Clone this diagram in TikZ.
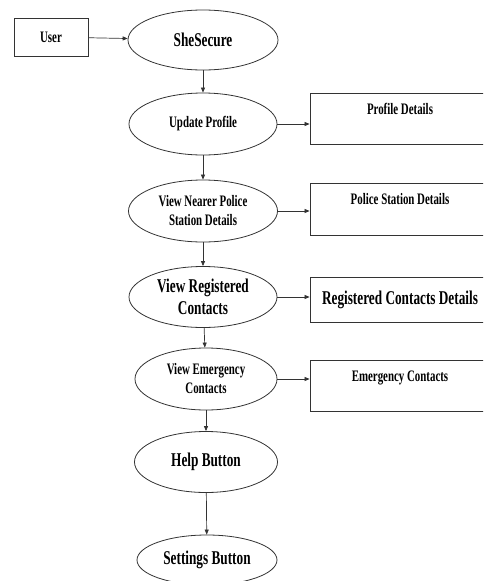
\documentclass[tikz,border=0pt]{standalone}
\usepackage{fontspec}
\setmainfont{Liberation Serif}[FakeStretch=0.68]
\usetikzlibrary{shapes.geometric,arrows.meta}
\begin{document}
\begin{tikzpicture}[x=1pt, y=-1pt, line width=0.8pt, draw=black!80,
  oval/.style={draw, shape=ellipse, inner sep=0pt, align=center, font=\bfseries\fontsize{16}{19}\selectfont},
  big/.style={font=\bfseries\fontsize{19.5}{22}\selectfont},
  box/.style={draw, shape=rectangle, inner sep=0pt, minimum width=180pt, font=\bfseries\fontsize{16}{19}\selectfont},
  toptext/.style={text height=10pt, text depth=19pt},
  flow/.style={-{Triangle[length=5pt, width=4pt]}, line width=0.7pt}]
\useasboundingbox (0,0) rectangle (483,581);
\clip (0,0) rectangle (483,581);
\node (us) [box, minimum width=74pt, minimum height=38pt] at (51,37) {User};
\node (ss) [oval, big, minimum width=150pt, minimum height=60pt] at (203,40) {SheSecure};
\node (up) [oval, minimum width=148pt, minimum height=62pt] at (203,124) {Update Profile};
\node (vp) [oval, minimum width=149pt, minimum height=62pt] at (203,211) {View Nearer Police\\Station Details};
\node (vr) [oval, big, minimum width=148pt, minimum height=61pt] at (203,297) {View Registered\\Contacts};
\node (ve) [oval, minimum width=142pt, minimum height=62pt] at (206,379) {View Emergency\\Contacts};
\node (hb) [oval, big, minimum width=143pt, minimum height=61pt] at (206,462) {Help Button};
\node (sb) [oval, big, minimum width=140pt, minimum height=50pt] at (207,560) {Settings Button};
\node (pd) [box, toptext, minimum height=51pt] at (400,118.5) {Profile Details};
\node (ps) [box, toptext, minimum height=52pt] at (400,209) {Police Station Details};
\node (rc) [box, big, minimum height=45pt] at (400,299.5) {Registered Contacts Details};
\node (ec) [box, toptext, minimum height=51pt] at (400,385.5) {Emergency Contacts};
\draw[flow] (us) -- (ss);
\draw[flow] (ss) -- (up);
\draw[flow] (up) -- (vp);
\draw[flow] (vp) -- (vr);
\draw[flow] (vr) -- (ve);
\draw[flow] (ve) -- (hb);
\draw[flow] (hb) -- (sb);
\draw[flow] (up.east) -- (up.east -| pd.west);
\draw[flow] (vp.east) -- (vp.east -| ps.west);
\draw[flow] (vr.east) -- (vr.east -| rc.west);
\draw[flow] (ve.east) -- (ve.east -| ec.west);
\end{tikzpicture}
\end{document}
